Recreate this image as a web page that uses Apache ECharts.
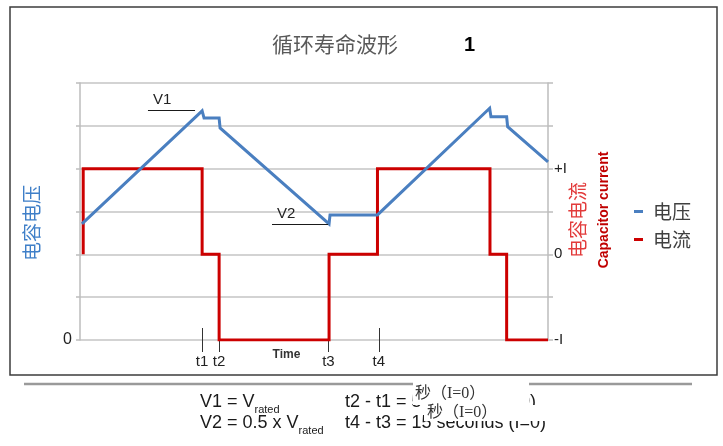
<!DOCTYPE html>
<html><head><meta charset="utf-8">
<script src="https://cdn.jsdelivr.net/npm/echarts@6/dist/echarts.min.js"></script>
<style>html,body{margin:0;padding:0;background:#fff}#c{width:723px;height:446px}</style>
</head><body><div id="c"></div>
<script>
// ---------- data ----------
const chartTitle = '循环寿命波形';
const titleMark = '1';
const seriesNames = ['电压', '电流'];
const voltageAxisName = '电容电压';
const currentAxisName = '电容电流';
const currentAxisNameEn = 'Capacitor current';
const timeAxisName = 'Time';

// voltage waveform (time in s, voltage in grid units)
const voltageT = [0.6, 38.1, 38.7, 43.4, 43.7, 77.7, 78.0, 92.8, 127.8, 128.2, 133.1, 133.4, 146];
const voltageV = [2.71, 5.35, 5.18, 5.18, 4.95, 2.71, 2.92, 2.92, 5.41, 5.21, 5.21, 4.98, 4.16];
// current waveform (time in s, current in units of I)
const currentT = [1.0, 1.0, 38.1, 38.1, 43.4, 43.4, 77.7, 77.7, 92.8, 92.8, 127.9, 127.9, 133.1, 133.1, 146];
const currentI = [0, 1, 1, 0, 0, -1, -1, 0, 0, 1, 1, 0, 0, -1, -1];

const timeTicks = [38.1, 43.4, 77.5, 93.2];
const timeTickLabels = ['t1', 't2', 't3', 't4'];
const voltageTickValues = [0];
const voltageTickLabels = ['0'];
const currentTickValues = [-1, 0, 1];
const currentTickLabels = ['-I', '0', '+I'];

// V1 / V2 reference levels
const levelNames = ['V1', 'V2'];
const levelValues = [5.37, 2.71];
const levelStart = [21.2, 59.9];
const levelEnd = [35.9, 77.4];

// footnote texts
const noteLeft = [['V1 = V', 'rated'], ['V2 = 0.5 x V', 'rated']];
const noteRight = ['t2 - t1 = 5 seconds (I=0)', 't4 - t3 = 15 seconds (I=0)'];
const noteOverlay = ['秒（I=0）', '秒（I=0）'];

// ---------- styling ----------
const BLUE = '#4a7fc0';
const RED = '#cc0000';
const SANS = '"Liberation Sans", Arial, sans-serif';
const CJK = '"Noto Sans CJK SC", sans-serif';

function measure(text, font) {
  const ctx = document.createElement('canvas').getContext('2d');
  ctx.font = font;
  return ctx.measureText(text).width;
}

const chart = echarts.init(document.getElementById('c'), null, {renderer: 'canvas'});

const footGraphics = [];
// separator line
footGraphics.push({type: 'line', shape: {x1: 24, y1: 384, x2: 692, y2: 384}, style: {stroke: '#9a9a9a', lineWidth: 2.5}});
const lineMid = [402, 423];
const subMid = [409.5, 430.5];
noteLeft.forEach((pair, i) => {
  const w = measure(pair[0], '18px ' + SANS);
  footGraphics.push({type: 'text', x: 200, y: lineMid[i], style: {text: pair[0], font: '18px ' + SANS, fill: '#1a1a1a', align: 'left', verticalAlign: 'middle'}});
  footGraphics.push({type: 'text', x: 200 + w, y: subMid[i], style: {text: pair[1], font: '11px ' + SANS, fill: '#1a1a1a', align: 'left', verticalAlign: 'middle'}});
});
noteRight.forEach((t, i) => {
  footGraphics.push({type: 'text', x: 345, y: lineMid[i], style: {text: t, font: '18px ' + SANS, fill: '#1a1a1a', align: 'left', verticalAlign: 'middle'}});
});
// overlay boxes (pasted translation boxes)
footGraphics.push({type: 'rect', shape: {x: 413, y: 380, width: 116, height: 25}, style: {fill: '#fff'}});
footGraphics.push({type: 'rect', shape: {x: 424, y: 405, width: 122, height: 16}, style: {fill: '#fff'}});
footGraphics.push({type: 'text', x: 415, y: 394, style: {text: noteOverlay[0], font: '16px "Liberation Serif", ' + CJK, fill: '#333', align: 'left', verticalAlign: 'middle'}});
footGraphics.push({type: 'text', x: 427, y: 413, style: {text: noteOverlay[1], font: '16px "Liberation Serif", ' + CJK, fill: '#333', align: 'left', verticalAlign: 'middle'}});

const option = {
  animation: false,
  backgroundColor: '#fff',
  title: {
    text: chartTitle, left: 272, top: 34, padding: 0,
    textStyle: {fontSize: 21, fontWeight: 'normal', color: '#595959', fontFamily: CJK}
  },
  legend: {
    data: seriesNames, orient: 'vertical', left: 629, top: 197,
    icon: 'rect', itemWidth: 9, itemHeight: 3, itemGap: 9,
    textStyle: {fontSize: 19, color: '#404040', fontFamily: CJK, padding: [0, 0, 0, 5]}
  },
  grid: {left: 80, right: 175, top: 83, bottom: 106, outerBoundsMode: 'none'},
  xAxis: {
    type: 'value', min: 0, max: 146, offset: -12,
    axisLine: {show: false}, splitLine: {show: false},
    axisTick: {show: true, customValues: timeTicks, length: 24, lineStyle: {color: '#333', width: 1}},
    axisLabel: {
      customValues: timeTicks, margin: 26, fontSize: 15, color: '#222', fontFamily: SANS,
      formatter: v => timeTickLabels[timeTicks.indexOf(v)] || ''
    }
  },
  yAxis: [
    {
      type: 'value', min: 0, max: 6, interval: 1, position: 'left',
      axisLine: {show: true, lineStyle: {color: '#bdbdbd', width: 1.5}},
      axisTick: {show: true, length: 4, lineStyle: {color: '#bdbdbd', width: 1.5}},
      axisLabel: {
        customValues: voltageTickValues, margin: 8, fontSize: 16, color: '#222', fontFamily: SANS,
        formatter: v => voltageTickLabels[voltageTickValues.indexOf(v)] || ''
      },
      splitLine: {show: true, lineStyle: {color: '#c4c4c4', width: 1.5}}
    },
    {
      type: 'value', min: -1, max: 2, interval: 0.5, position: 'right',
      axisLine: {show: true, lineStyle: {color: '#bdbdbd', width: 1.5}},
      axisTick: {show: true, length: 5, lineStyle: {color: '#bdbdbd', width: 1.5}},
      axisLabel: {
        customValues: currentTickValues, margin: 6, fontSize: 15, color: '#222', fontFamily: SANS,
        formatter: v => currentTickLabels[currentTickValues.indexOf(v)] || ''
      },
      splitLine: {show: false}
    }
  ],
  series: [
    {
      name: seriesNames[1], type: 'line', yAxisIndex: 1, symbol: 'none', showSymbol: false,
      data: currentT.map((t, i) => [t, currentI[i]]),
      lineStyle: {color: RED, width: 3, join: 'miter'}, itemStyle: {color: RED},
      emphasis: {disabled: true}
    },
    {
      name: seriesNames[0], type: 'line', yAxisIndex: 0, symbol: 'none', showSymbol: false,
      data: voltageT.map((t, i) => [t, voltageV[i]]),
      lineStyle: {color: BLUE, width: 3, join: 'miter'}, itemStyle: {color: BLUE},
      emphasis: {disabled: true},
      markLine: {
        silent: true, symbol: 'none', animation: false,
        lineStyle: {color: '#1a1a1a', width: 1, type: 'solid'},
        label: {show: true, position: 'insideStartTop', formatter: p => p.name, color: '#222', fontSize: 15, fontFamily: SANS, distance: [5, 3]},
        emphasis: {disabled: true},
        data: levelNames.map((n, i) => [
          {name: n, coord: [levelStart[i], levelValues[i]]},
          {coord: [levelEnd[i], levelValues[i]]}
        ])
      }
    }
  ],
  graphic: [
    {type: 'rect', shape: {x: 10, y: 7, width: 707, height: 368}, style: {fill: 'none', stroke: '#3c3c3c', lineWidth: 1.5}, z: -1},
    {type: 'text', x: 469.5, y: 45, style: {text: titleMark, font: 'bold 20px ' + SANS, fill: '#000', align: 'center', verticalAlign: 'middle'}},
    {type: 'text', x: 32, y: 223, rotation: Math.PI / 2, style: {text: voltageAxisName, font: '19px ' + CJK, fill: '#3f7fc8', align: 'center', verticalAlign: 'middle'}},
    {type: 'text', x: 578, y: 220, rotation: Math.PI / 2, style: {text: currentAxisName, font: '19px ' + CJK, fill: '#e23b3b', align: 'center', verticalAlign: 'middle'}},
    {type: 'text', x: 604, y: 210, rotation: Math.PI / 2, style: {text: currentAxisNameEn, font: 'bold 14px ' + SANS, fill: '#c00000', align: 'center', verticalAlign: 'middle'}},
    {type: 'text', x: 286.5, y: 355, style: {text: timeAxisName, font: 'bold 12px ' + SANS, fill: '#333', align: 'center', verticalAlign: 'middle'}}
  ].concat(footGraphics)
};
chart.setOption(option);
</script>
</body></html>
